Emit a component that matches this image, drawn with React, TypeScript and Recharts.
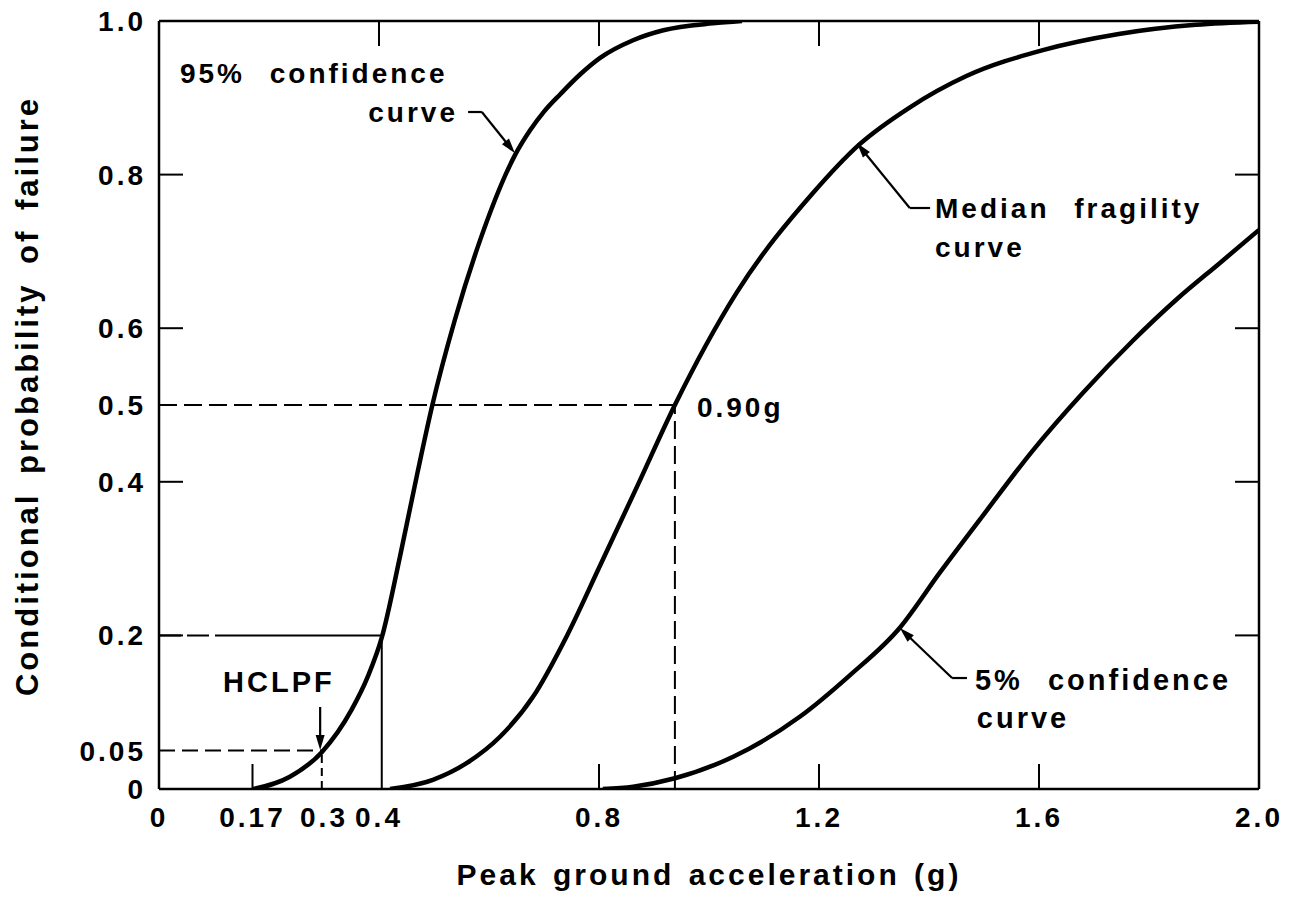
import React from 'react';
import { LineChart, Line, XAxis, YAxis, ReferenceLine, ReferenceDot, Label } from 'recharts';

// ---- data ----
const curve95 = [
  { g: 0.171, p: 0 },
  { g: 0.238, p: 0.016 },
  { g: 0.296, p: 0.048 },
  { g: 0.35, p: 0.103 },
  { g: 0.38, p: 0.147 },
  { g: 0.405, p: 0.197 },
  { g: 0.438, p: 0.302 },
  { g: 0.47, p: 0.412 },
  { g: 0.497, p: 0.5 },
  { g: 0.538, p: 0.611 },
  { g: 0.584, p: 0.715 },
  { g: 0.647, p: 0.825 },
  { g: 0.675, p: 0.858 },
  { g: 0.7, p: 0.882 },
  { g: 0.73, p: 0.905 },
  { g: 0.765, p: 0.93 },
  { g: 0.802, p: 0.952 },
  { g: 0.862, p: 0.975 },
  { g: 0.917, p: 0.988 },
  { g: 1.007, p: 0.997 },
  { g: 1.06, p: 1.0 },
];

const curveMedian = [
  { g: 0.42, p: 0 },
  { g: 0.498, p: 0.012 },
  { g: 0.56, p: 0.034 },
  { g: 0.62, p: 0.068 },
  { g: 0.68, p: 0.12 },
  { g: 0.742, p: 0.2 },
  { g: 0.802, p: 0.291 },
  { g: 0.87, p: 0.395 },
  { g: 0.938, p: 0.5 },
  { g: 1.05, p: 0.646 },
  { g: 1.189, p: 0.776 },
  { g: 1.273, p: 0.839 },
  { g: 1.364, p: 0.887 },
  { g: 1.467, p: 0.928 },
  { g: 1.607, p: 0.962 },
  { g: 1.745, p: 0.983 },
  { g: 1.885, p: 0.995 },
  { g: 2.0, p: 0.999 },
];

const curve5 = [
  { g: 0.807, p: 0 },
  { g: 0.862, p: 0.003 },
  { g: 0.938, p: 0.014 },
  { g: 1.044, p: 0.042 },
  { g: 1.165, p: 0.094 },
  { g: 1.256, p: 0.148 },
  { g: 1.347, p: 0.21 },
  { g: 1.42, p: 0.282 },
  { g: 1.498, p: 0.356 },
  { g: 1.589, p: 0.441 },
  { g: 1.68, p: 0.516 },
  { g: 1.771, p: 0.584 },
  { g: 1.851, p: 0.638 },
  { g: 1.929, p: 0.685 },
  { g: 2.0, p: 0.728 },
];

const xTicks = [0, 0.17, 0.3, 0.4, 0.8, 1.2, 1.6, 2.0];
const xTickLabels = ['0', '0.17', '0.3', '0.4', '0.8', '1.2', '1.6', '2.0'];
const yTicks = [0, 0.05, 0.2, 0.4, 0.5, 0.6, 0.8, 1.0];
const yTickLabels = ['0', '0.05', '0.2', '0.4', '0.5', '0.6', '0.8', '1.0'];

const yInnerTickMarks = [0.2, 0.4, 0.6, 0.8];
const bottomInnerTickMarks = [0.17, 0.8, 1.2, 1.6];
const topInnerTickMarks = [0.4, 0.8, 1.2, 1.6];

// guide points
const medianPoint = { g: 0.938, p: 0.5 };
const hclpfPoint = { g: 0.296, p: 0.05 };
const p20Point = { g: 0.405, p: 0.2 };

// ---- annotations ----
const annotationTexts = [
  { text: '95% confidence', g: 0.038, p: 0.919, anchor: 'start', size: 28 },
  { text: 'curve', g: 0.5436, p: 0.8685, anchor: 'end', size: 28 },
  { text: 'Median fragility', g: 1.411, p: 0.7435, anchor: 'start', size: 28 },
  { text: 'curve', g: 1.411, p: 0.6927, anchor: 'start', size: 28 },
  { text: '0.90g', g: 0.978, p: 0.4844, anchor: 'start', size: 28 },
  { text: '5% confidence', g: 1.4836, p: 0.1289, anchor: 'start', size: 29 },
  { text: 'curve', g: 1.487, p: 0.0794, anchor: 'start', size: 29 },
  { text: 'HCLPF', g: 0.218, p: 0.1263, anchor: 'middle', size: 29 },
];

const leaderStubs = [
  [{ x: 0.562, y: 0.8815 }, { x: 0.587, y: 0.8815 }],
  [{ x: 1.365, y: 0.7565 }, { x: 1.402, y: 0.7565 }],
  [{ x: 1.442, y: 0.1445 }, { x: 1.469, y: 0.1445 }],
];
const leaderArrows = [
  [{ x: 0.587, y: 0.8815 }, { x: 0.647, y: 0.828 }],
  [{ x: 1.365, y: 0.7565 }, { x: 1.269, y: 0.841 }],
  [{ x: 1.442, y: 0.1445 }, { x: 1.347, y: 0.2096 }],
  [{ x: 0.293, y: 0.1068 }, { x: 0.293, y: 0.0508 }],
];

const FONT = '"Liberation Sans", Arial, Helvetica, sans-serif';
const TICK_X_LEN = 24 / 550;
const TICK_Y_LEN = 25 / 768;

function ArrowShape(props: any) {
  const { x1, y1, x2, y2 } = props;
  const dx = x2 - x1;
  const dy = y2 - y1;
  const len = Math.hypot(dx, dy) || 1;
  const ux = dx / len;
  const uy = dy / len;
  const L = 15;
  const W = 4.5;
  const bx = x2 - ux * L;
  const by = y2 - uy * L;
  const px = -uy;
  const py = ux;
  return (
    <g>
      <line x1={x1} y1={y1} x2={bx + ux * 2} y2={by + uy * 2} stroke="#000" strokeWidth={2.2} />
      <polygon
        points={`${x2},${y2} ${bx + px * W},${by + py * W} ${bx - px * W},${by - py * W}`}
        fill="#000"
      />
    </g>
  );
}

function makeTextShape(text: string, anchor: string, size: number) {
  return (props: any) => (
    <text
      x={props.cx}
      y={props.cy}
      textAnchor={anchor as any}
      fontFamily={FONT}
      fontWeight={700}
      fontSize={size}
      letterSpacing={3}
      wordSpacing={14}
      fill="#000"
    >
      {text}
    </text>
  );
}

function XTitle(props: any) {
  const vb = props.viewBox || { x: 0, y: 0, width: 0, height: 0 };
  return (
    <text
      x={vb.x + vb.width / 2}
      y={vb.y + 96}
      textAnchor="middle"
      fontFamily={FONT}
      fontWeight={700}
      fontSize={30}
      letterSpacing={3}
      wordSpacing={3}
      fill="#000"
    >
      Peak ground acceleration (g)
    </text>
  );
}

function YTitle(props: any) {
  const vb = props.viewBox || { x: 0, y: 0, width: 0, height: 0 };
  const cx = vb.x + 30;
  const cy = vb.y + vb.height / 2 - 9;
  return (
    <text
      x={cx}
      y={cy}
      transform={`rotate(-90 ${cx} ${cy})`}
      textAnchor="middle"
      fontFamily={FONT}
      fontWeight={700}
      fontSize={31}
      letterSpacing={3}
      wordSpacing={7}
      fill="#000"
    >
      Conditional probability of failure
    </text>
  );
}

const tickStyle = {
  fill: '#000',
  fontSize: 28,
  fontWeight: 700,
  fontFamily: FONT,
  letterSpacing: 3,
};

export default function App() {
  return (
    <div style={{ width: 1299, height: 899, margin: '-8px 0 0 -8px', background: '#fff' }}>
      <LineChart width={1299} height={899} margin={{ top: 21, right: 40, bottom: 20, left: 8 }}>
        <XAxis
          type="number"
          dataKey="g"
          domain={[0, 2]}
          ticks={xTicks}
          interval={0}
          tickFormatter={(v: number) => xTickLabels[xTicks.indexOf(v)] ?? String(v)}
          tickLine={false}
          tickSize={0}
          tickMargin={18}
          axisLine={{ stroke: '#000', strokeWidth: 2.5 }}
          tick={tickStyle}
          height={90}
          allowDataOverflow
        >
          <Label content={(p: any) => <XTitle {...p} />} />
        </XAxis>
        <YAxis
          type="number"
          dataKey="p"
          domain={[0, 1]}
          ticks={yTicks}
          interval={0}
          tickFormatter={(v: number) => yTickLabels[yTicks.indexOf(v)] ?? String(v)}
          tickLine={false}
          tickSize={0}
          tickMargin={13}
          axisLine={{ stroke: '#000', strokeWidth: 2.5 }}
          tick={tickStyle}
          width={151}
          allowDataOverflow
        >
          <Label content={(p: any) => <YTitle {...p} />} />
        </YAxis>

        {/* frame: top and right */}
        <ReferenceLine y={1} stroke="#000" strokeWidth={2.5} />
        <ReferenceLine x={2} stroke="#000" strokeWidth={2.5} />

        {/* inward tick marks */}
        {yInnerTickMarks.map((v) => (
          <ReferenceLine
            key={'yl' + v}
            segment={[{ x: 0, y: v }, { x: TICK_X_LEN, y: v }]}
            stroke="#000"
            strokeWidth={2}
          />
        ))}
        {yInnerTickMarks.map((v) => (
          <ReferenceLine
            key={'yr' + v}
            segment={[{ x: 2 - TICK_X_LEN, y: v }, { x: 2, y: v }]}
            stroke="#000"
            strokeWidth={2}
          />
        ))}
        {bottomInnerTickMarks.map((v) => (
          <ReferenceLine
            key={'xb' + v}
            segment={[{ x: v, y: 0 }, { x: v, y: TICK_Y_LEN }]}
            stroke="#000"
            strokeWidth={2}
          />
        ))}
        {topInnerTickMarks.map((v) => (
          <ReferenceLine
            key={'xt' + v}
            segment={[{ x: v, y: 1 }, { x: v, y: 1 - TICK_Y_LEN }]}
            stroke="#000"
            strokeWidth={2}
          />
        ))}

        {/* guide lines */}
        <ReferenceLine
          segment={[{ x: 0, y: medianPoint.p }, { x: medianPoint.g, y: medianPoint.p }]}
          stroke="#000"
          strokeWidth={2}
          strokeDasharray="18 7"
        />
        <ReferenceLine
          segment={[{ x: medianPoint.g, y: 0 }, { x: medianPoint.g, y: medianPoint.p }]}
          stroke="#000"
          strokeWidth={2}
          strokeDasharray="18 7"
        />
        <ReferenceLine
          segment={[{ x: 0, y: hclpfPoint.p }, { x: hclpfPoint.g, y: hclpfPoint.p }]}
          stroke="#000"
          strokeWidth={2}
          strokeDasharray="16 7"
        />
        <ReferenceLine
          segment={[{ x: hclpfPoint.g, y: 0 }, { x: hclpfPoint.g, y: hclpfPoint.p }]}
          stroke="#000"
          strokeWidth={2}
          strokeDasharray="8 5"
        />
        <ReferenceLine
          segment={[{ x: 0, y: p20Point.p }, { x: p20Point.g, y: p20Point.p }]}
          stroke="#000"
          strokeWidth={2}
          strokeDasharray="22 6 22 6 400"
        />
        <ReferenceLine
          segment={[{ x: p20Point.g, y: 0 }, { x: p20Point.g, y: p20Point.p }]}
          stroke="#000"
          strokeWidth={2}
        />

        {/* curves */}
        <Line data={curve95} dataKey="p" type="monotone" stroke="#000" strokeWidth={4.5} dot={false} isAnimationActive={false} />
        <Line data={curveMedian} dataKey="p" type="monotone" stroke="#000" strokeWidth={4.5} dot={false} isAnimationActive={false} />
        <Line data={curve5} dataKey="p" type="monotone" stroke="#000" strokeWidth={4.5} dot={false} isAnimationActive={false} />

        {/* leaders */}
        {leaderStubs.map((s, i) => (
          <ReferenceLine key={'ls' + i} segment={s as any} stroke="#000" strokeWidth={2.2} />
        ))}
        {leaderArrows.map((s, i) => (
          <ReferenceLine key={'la' + i} segment={s as any} shape={(p: any) => <ArrowShape {...p} />} />
        ))}

        {/* annotation texts */}
        {annotationTexts.map((a, i) => (
          <ReferenceDot
            key={'t' + i}
            x={a.g}
            y={a.p}
            r={1}
            shape={makeTextShape(a.text, a.anchor, a.size)}
          />
        ))}
      </LineChart>
    </div>
  );
}
